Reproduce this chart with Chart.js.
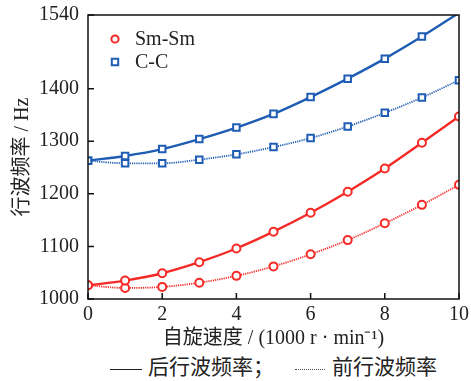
<!DOCTYPE html>
<html>
<head>
<meta charset="utf-8">
<script src="https://cdn.jsdelivr.net/npm/chart.js@4/dist/chart.umd.min.js"></script>
<style>
  body { margin: 0; background: #fff; }
  #wrap { position: relative; width: 471px; height: 353px; }
  #legend2 {
    width: 471px; height: 28px; text-align: left;
    font: 21px "Liberation Serif", "Noto Sans CJK SC", serif; color: #222;
    line-height: 28px; white-space: nowrap; padding-left: 110px; box-sizing: border-box;
  }
  .sample { display: inline-block; width: 32px; vertical-align: middle; margin-right: 6px; }
  .solid { border-top: 1.6px solid #222; }
  .dot { border-top: 1.5px dotted #444; margin-left: 21px; margin-right: 7px; width: 30px; }
</style>
</head>
<body>
<div id="wrap"><canvas id="c"></canvas></div>
<div id="legend2"><span class="sample solid"></span>后行波频率；<span class="sample dot"></span>前行波频率</div>
<script>
const speeds = [0, 1, 2, 3, 4, 5, 6, 7, 8, 9, 10];
const smBackward = [1026, 1035, 1049, 1070, 1096, 1128, 1164, 1204, 1248, 1297, 1347];
const smForward = [1026, 1021, 1023, 1031, 1044, 1062, 1085, 1112, 1144, 1179, 1217];
const ccBackward = [1263, 1272, 1285, 1304, 1326, 1352, 1384, 1419, 1457, 1499, 1544];
const ccForward = [1263, 1258, 1258, 1265, 1275, 1289, 1306, 1328, 1354, 1383, 1416];
const yTicks = [1000, 1100, 1200, 1300, 1400, 1540];
const xTicks = [0, 2, 4, 6, 8, 10];
const legendNames = ['Sm-Sm', 'C-C'];

const RED = '#f52a26';
const BLUE = '#1f5cb4';
const FONT = '"Liberation Serif", "Noto Sans CJK SC", serif';

function pts(arr) {
    return arr.map((v, i) => ({ x: speeds[i], y: v }));
}

function makeSet(label, values, color, style, dotted) {
    return {
        label: label,
        data: pts(values),
        borderColor: color,
        backgroundColor: '#fff',
        borderWidth: dotted ? 1.8 : 2.4,
        borderDash: dotted ? [1.2, 1] : [],
        pointStyle: style,
        pointRadius: ctx => (ctx.raw && ctx.raw.y > 1540 ? 0 : (style === 'rect' ? 4.6 : 4)),
        pointBorderWidth: 2,
        pointBorderColor: color,
        pointBackgroundColor: '#fff',
        cubicInterpolationMode: 'monotone',
        tension: 0.4,
        fill: false
    };
}

// inward ticks, box frame and inner legend
const framePlugin = {
    id: 'frame',
    afterDraw(chart) {
        const ctx = chart.ctx;
        const a = chart.chartArea;
        const xs = chart.scales.x, ys = chart.scales.y;
        ctx.save();
        ctx.strokeStyle = '#111';
        ctx.lineWidth = 1.5;
        ctx.strokeRect(a.left, a.top, a.right - a.left, a.bottom - a.top);
        ctx.beginPath();
        xs.ticks.forEach(t => {
            const px = xs.getPixelForValue(t.value);
            ctx.moveTo(px, a.bottom);
            ctx.lineTo(px, a.bottom - 6);
        });
        ys.ticks.forEach(t => {
            const py = ys.getPixelForValue(t.value);
            ctx.moveTo(a.left, py);
            ctx.lineTo(a.left + 6, py);
        });
        ctx.stroke();

        // legend inside top-left
        const items = [
            { name: legendNames[0], color: RED, style: 'circle' },
            { name: legendNames[1], color: BLUE, style: 'rect' }
        ];
        ctx.font = '20px ' + FONT;
        ctx.textBaseline = 'middle';
        items.forEach((it, i) => {
            const cx = a.left + 27, cy = a.top + 24 + i * 23;
            ctx.strokeStyle = it.color;
            ctx.fillStyle = '#fff';
            ctx.lineWidth = 2;
            ctx.beginPath();
            if (it.style === 'circle') {
                ctx.arc(cx, cy, 3.6, 0, Math.PI * 2);
            } else {
                ctx.rect(cx - 3.2, cy - 3.2, 6.4, 6.4);
            }
            ctx.fill();
            ctx.stroke();
            ctx.fillStyle = '#222';
            ctx.fillText(it.name, cx + 20, cy + 1);
        });
        ctx.restore();
    }
};

new Chart(document.getElementById('c'), {
    type: 'line',
    data: {
        datasets: [
            makeSet('Sm-Sm', smBackward, RED, 'circle', false),
            makeSet('Sm-Sm 前行', smForward, RED, 'circle', true),
            makeSet('C-C', ccBackward, BLUE, 'rect', false),
            makeSet('C-C 前行', ccForward, BLUE, 'rect', true)
        ]
    },
    options: {
        responsive: true,
        maintainAspectRatio: false,
        animation: false,
        layout: { padding: { top: 15, right: 12, left: 0, bottom: 0 } },
        plugins: { legend: { display: false }, tooltip: { enabled: false } },
        scales: {
            x: {
                type: 'linear',
                min: 0, max: 10,
                afterBuildTicks: s => { s.ticks = xTicks.map(v => ({ value: v })); },
                afterFit: s => { s.height = 54; s.paddingLeft = 0; s.paddingRight = 0; },
                grid: { display: false, drawTicks: false },
                border: { display: false },
                ticks: { color: '#222', padding: 4, font: { family: FONT, size: 20 }, callback: v => String(v) },
                title: {
                    display: true,
                    text: '自旋速度 / (1000 r · min⁻¹)',
                    color: '#222',
                    font: { family: FONT, size: 20 },
                    padding: { top: 0, bottom: 2 }
                }
            },
            y: {
                min: 1000, max: 1540,
                afterBuildTicks: s => { s.ticks = yTicks.map(v => ({ value: v })); },
                afterFit: s => { s.width = 88; s.paddingTop = 0; s.paddingBottom = 0; },
                grid: { display: false, drawTicks: false },
                border: { display: false },
                ticks: { color: '#222', padding: 9, font: { family: FONT, size: 20 }, callback: v => String(v) },
                title: {
                    display: true,
                    text: '行波频率 / Hz',
                    color: '#222',
                    font: { family: FONT, size: 20 },
                    padding: { top: 11, bottom: 0 }
                }
            }
        }
    },
    plugins: [framePlugin]
});
</script>
</body>
</html>
